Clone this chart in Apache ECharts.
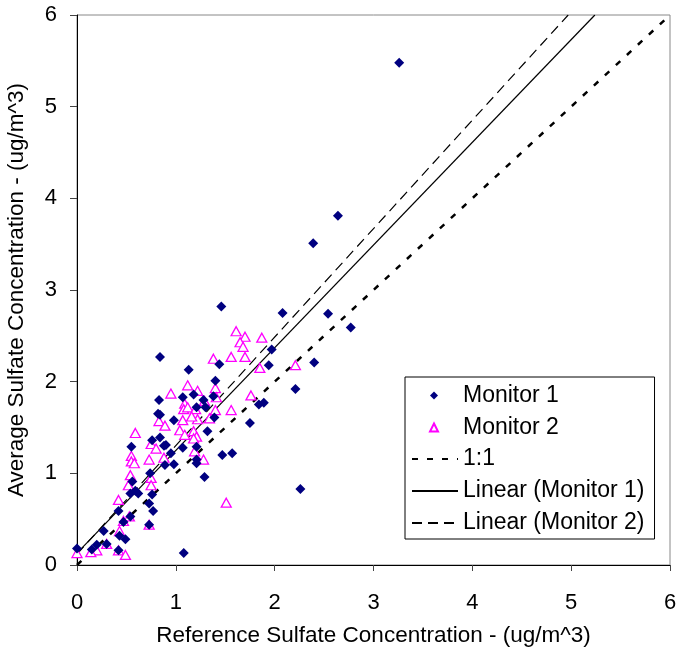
<!DOCTYPE html>
<html><head><meta charset="utf-8">
<script src="https://cdn.jsdelivr.net/npm/echarts@6/dist/echarts.min.js"></script>
<style>html,body{margin:0;padding:0;background:#fff}#c{width:681px;height:653px}</style>
</head><body><div id="c"></div>
<script>
// Monitor 1 (diamonds): [reference, average]
const monitor1 = [
 [3.26,5.48],[2.64,3.81],[2.39,3.51],[1.46,2.82],[2.08,2.75],[2.54,2.74],[2.77,2.59],
 [1.97,2.35],[2.40,2.21],[1.94,2.18],[2.21,1.92],[1.84,1.75],[1.89,1.77],[1.75,1.55],
 [2.26,0.83],[0.84,2.27],[1.13,2.13],[1.44,2.19],[1.40,2.01],[0.83,1.80],[1.07,1.83],
 [1.18,1.86],[1.38,1.84],[1.28,1.80],[0.82,1.65],[0.84,1.64],[0.98,1.58],[1.21,1.72],
 [1.30,1.72],[1.39,1.61],[0.84,1.39],[0.76,1.36],[0.55,1.29],[0.88,1.30],[0.95,1.22],
 [1.07,1.28],[1.21,1.29],[1.32,1.46],[1.21,1.15],[1.21,1.11],[0.89,1.09],[0.98,1.10],
 [1.47,1.20],[1.57,1.22],[1.29,0.96],[0.74,1.00],[0.56,0.91],[0.59,0.81],[0.62,0.78],
 [0.54,0.78],[0.76,0.77],[0.73,0.67],[0.77,0.59],[0.42,0.59],[0.54,0.53],[0.27,0.37],
 [0.43,0.32],[0.49,0.28],[0.47,0.47],[0.73,0.44],[0.30,0.23],[0.20,0.22],[0.15,0.17],
 [0.00,0.18],[0.42,0.16],[1.08,0.13],[0.90,1.31]
];
// Monitor 2 (triangles)
const monitor2 = [
 [1.61,2.55],[1.70,2.49],[1.65,2.43],[1.68,2.38],[1.87,2.48],[1.56,2.27],[1.70,2.27],
 [1.38,2.25],[1.85,2.15],[2.21,2.18],[1.12,1.96],[1.22,1.90],[0.95,1.87],[1.40,1.93],
 [1.41,1.83],[1.76,1.85],[1.56,1.69],[1.09,1.76],[1.29,1.79],[1.40,1.69],[1.08,1.70],
 [1.12,1.72],[1.20,1.70],[1.34,1.60],[1.22,1.59],[1.07,1.58],[1.16,1.62],[0.83,1.57],
 [0.89,1.52],[1.04,1.47],[1.09,1.42],[1.18,1.46],[1.21,1.40],[1.18,1.38],[1.19,1.24],
 [1.28,1.15],[0.59,1.44],[0.75,1.32],[0.80,1.27],[0.55,1.19],[0.55,1.13],[0.58,1.11],
 [0.73,1.15],[0.88,1.17],[0.54,0.98],[0.52,0.87],[0.75,0.95],[0.75,0.87],[0.42,0.71],
 [0.47,0.48],[0.53,0.53],[0.73,0.44],[0.43,0.37],[0.30,0.23],[0.20,0.16],[0.14,0.14],
 [0.00,0.13],[0.42,0.16],[0.49,0.11],[1.51,0.68]
];
// reference lines (endpoints)
const oneToOne = [[0,0],[6,6]];
const linear1 = [[0,0.13],[5.24,6.0]];
const linear2 = [[0,0.12],[4.97,6.0]];
const xTicks = [0,1,2,3,4,5,6];
const yTicks = [0,1,2,3,4,5,6];
const seriesNames = ['Monitor 1','Monitor 2','1:1','Linear (Monitor 1)','Linear (Monitor 2)'];

const FONT = 'Liberation Sans, Arial, sans-serif';
const LFS = 23;
const chart = echarts.init(document.getElementById('c'), null, {renderer:'canvas'});
chart.setOption({
  animation:false,
  backgroundColor:'#fff',
  grid:{left:77, right:11, top:15, bottom:88, show:true, borderColor:'#888', borderWidth:1,
    containLabel:false, outerBoundsMode:'none'},
  xAxis:{type:'value', min:xTicks[0], max:xTicks[xTicks.length-1], interval:1,
    name:'Reference Sulfate Concentration - (ug/m^3)', nameLocation:'middle', nameGap:59,
    nameTextStyle:{fontFamily:FONT, fontSize:22.5, color:'#000'},
    axisLine:{show:true, onZero:false, lineStyle:{color:'#000', width:1}},
    axisTick:{show:true, inside:false, length:6, lineStyle:{color:'#444'}},
    axisLabel:{fontFamily:FONT, fontSize:22, color:'#000', margin:27},
    splitLine:{show:false}},
  yAxis:{type:'value', min:yTicks[0], max:yTicks[yTicks.length-1], interval:1,
    name:'Average Sulfate Concentration - (ug/m^3)', nameLocation:'middle', nameGap:49,
    nameTextStyle:{fontFamily:FONT, fontSize:22.5, color:'#000'},
    axisLine:{show:true, onZero:false, lineStyle:{color:'#000', width:1}},
    axisTick:{show:true, inside:false, length:7, lineStyle:{color:'#444'}},
    axisLabel:{fontFamily:FONT, fontSize:22, color:'#000', margin:20},
    splitLine:{show:false}},
  legend:[
    {orient:'vertical', left:405, top:377, backgroundColor:'#fff', z:5,
      borderColor:'#000', borderWidth:1, padding:[70.5,10,4.5,6], itemGap:9,
      itemWidth:46, itemHeight:12,
      textStyle:{fontFamily:FONT, fontSize:LFS, color:'#000', lineHeight:23},
      data:[
        {name:seriesNames[2], itemStyle:{opacity:0}},
        {name:seriesNames[3], itemStyle:{opacity:0}},
        {name:seriesNames[4], itemStyle:{opacity:0}}
      ]},
    {orient:'vertical', left:429, top:384, padding:0, itemGap:9, z:6,
      itemWidth:8, itemHeight:8,
      formatter:function(n){return '{a|'+n+'}';},
      textStyle:{fontFamily:FONT, fontSize:LFS, color:'#000', lineHeight:23,
        rich:{a:{fontFamily:FONT, fontSize:LFS, color:'#000', lineHeight:23, padding:[0,0,0,20]}}},
      data:[
        {name:seriesNames[0], icon:'diamond'},
        {name:seriesNames[1], icon:'triangle'}
      ]}
  ],
  series:[
    {name:seriesNames[2], type:'line', data:oneToOne, symbol:'none', z:2,
      itemStyle:{color:'#000'}, lineStyle:{color:'#000', width:2.5, type:[6,9]}},
    {name:seriesNames[3], type:'line', data:linear1, symbol:'none', z:2,
      itemStyle:{color:'#000'}, lineStyle:{color:'#000', width:1.2, type:'solid'}},
    {name:seriesNames[4], type:'line', data:linear2, symbol:'none', z:2,
      itemStyle:{color:'#000'}, lineStyle:{color:'#000', width:1.2, type:[10,6]}},
    {name:seriesNames[1], type:'scatter', data:monitor2, symbol:'triangle', symbolSize:[10,9], z:3,
      itemStyle:{color:'#fff', borderColor:'#FF00FF', borderWidth:1.3, opacity:1}},
    {name:seriesNames[0], type:'scatter', data:monitor1, symbol:'diamond', symbolSize:[10,10], z:4,
      itemStyle:{color:'#000080', opacity:1}}
  ]
});
</script></body></html>
